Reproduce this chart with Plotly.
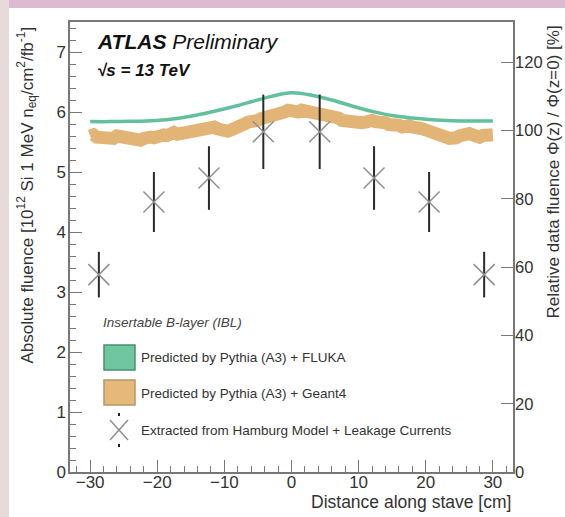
import plotly.graph_objects as go

# ---------------- data ----------------
PHI0 = 5.69  # Φ(z=0) used for the relative (right) axis

# Extracted from Hamburg Model + Leakage Currents
data_z = [-28.7, -20.5, -12.3, -4.2, 4.2, 12.3, 20.5, 28.7]
data_fluence = [3.29, 4.50, 4.90, 5.67, 5.67, 4.90, 4.50, 3.29]
data_err = [0.38, 0.50, 0.53, 0.62, 0.62, 0.53, 0.50, 0.38]

# Predicted by Pythia (A3) + FLUKA
fluka_z = [-30, -27, -24, -21, -18, -15, -12, -9, -6, -3, 0, 3, 6, 9, 12, 15, 18, 21, 24, 27, 30]
fluka_fluence = [5.84, 5.84, 5.845, 5.855, 5.88, 5.93, 6.00, 6.08, 6.17, 6.26, 6.32,
                 6.28, 6.20, 6.10, 6.01, 5.94, 5.90, 5.87, 5.855, 5.85, 5.85]

# Predicted by Pythia (A3) + Geant4  (sampled every 0.5 cm from -30 to 30)
g4_fluence = [5.60, 5.62, 5.58, 5.57, 5.61, 5.60, 5.57, 5.56, 5.60, 5.59,
              5.56, 5.53, 5.54, 5.55, 5.52, 5.53, 5.56, 5.59, 5.58, 5.57,
              5.60, 5.63, 5.62, 5.61, 5.64, 5.66, 5.63, 5.64, 5.67, 5.70,
              5.70, 5.69, 5.72, 5.75, 5.75, 5.74, 5.76, 5.75, 5.72, 5.69,
              5.69, 5.68, 5.70, 5.74, 5.76, 5.76, 5.80, 5.83, 5.83, 5.83,
              5.86, 5.89, 5.90, 5.91, 5.95, 5.98, 5.98, 5.97, 6.00, 6.03,
              6.01, 5.99, 6.00, 6.03, 6.02, 5.99, 5.99, 5.96, 5.97, 5.98,
              5.96, 5.93, 5.93, 5.92, 5.90, 5.86, 5.85, 5.84, 5.81, 5.79,
              5.80, 5.82, 5.83, 5.86, 5.86, 5.84, 5.85, 5.84, 5.82, 5.79,
              5.80, 5.80, 5.78, 5.75, 5.77, 5.77, 5.75, 5.72, 5.72, 5.72,
              5.70, 5.67, 5.67, 5.66, 5.63, 5.60, 5.58, 5.56, 5.55, 5.57,
              5.60, 5.63, 5.65, 5.64, 5.62, 5.58, 5.58, 5.61, 5.60, 5.58,
              5.62]
g4_z = [-30 + 0.5 * i for i in range(len(g4_fluence))]

x_ticks = [-30, -20, -10, 0, 10, 20, 30]
x_ticktext = ["\u221230", "\u221220", "\u221210", "0", "10", "20", "30"]
y_ticks = [0, 1, 2, 3, 4, 5, 6, 7]
y2_ticks = [0, 20, 40, 60, 80, 100, 120]

# ---------------- styling ----------------
W, H = 565, 517
L, R, T, B = 70, 52, 22, 45
PW, PH = W - L - R, H - T - B
FONT = "Liberation Sans, Arial, sans-serif"
GREEN = "#62C19B"
ORANGE = "#E2B577"
AXC = "#777777"
TXT = "#333333"


def px(X):
    return (X - L) / PW


def py(Y):
    return (T + PH - Y) / PH


fig = go.Figure()

fig.add_trace(go.Scatter(x=g4_z, y=g4_fluence, mode="lines",
                         line=dict(color=ORANGE, width=13), showlegend=False, hoverinfo="skip"))
fig.add_trace(go.Scatter(x=fluka_z, y=fluka_fluence, mode="lines",
                         line=dict(color=GREEN, width=3.5, shape="spline"), showlegend=False))
fig.add_trace(go.Scatter(x=data_z, y=data_fluence, mode="markers",
                         marker=dict(symbol="x-thin", size=21, line=dict(color="#8f8f8f", width=1.5)),
                         error_y=dict(type="data", array=data_err, color="#2a2a2a", thickness=2, width=0),
                         showlegend=False))
# relative-axis companion (invisible) so that the right axis is drawn
fig.add_trace(go.Scatter(x=data_z, y=[v / PHI0 * 100 for v in data_fluence], yaxis="y2",
                         mode="markers", marker=dict(opacity=0), showlegend=False, hoverinfo="skip"))

TICKFONT = dict(size=17, color=TXT)
fig.update_layout(
    width=W, height=H,
    margin=dict(l=L, r=R, t=T, b=B),
    paper_bgcolor="white", plot_bgcolor="white",
    font=dict(family=FONT, size=15, color=TXT),
    xaxis=dict(range=[-33, 33], tickvals=x_ticks, ticktext=x_ticktext,
               ticks="inside", ticklen=12, tickwidth=1.3, tickcolor=AXC,
               minor=dict(dtick=2, ticks="inside", ticklen=6, tickwidth=1.2, tickcolor=AXC),
               showline=True, linecolor=AXC, linewidth=1.5, mirror=True,
               showgrid=False, zeroline=False, tickfont=TICKFONT, ticklabelstandoff=-6),
    yaxis=dict(range=[0, 7.5], tickvals=y_ticks,
               ticks="inside", ticklen=12, tickwidth=1.3, tickcolor=AXC,
               minor=dict(dtick=0.2, ticks="inside", ticklen=6, tickwidth=1.2, tickcolor=AXC),
               showline=True, linecolor=AXC, linewidth=1.5,
               showgrid=False, zeroline=False, tickfont=TICKFONT, ticklabelstandoff=-1),
    yaxis2=dict(range=[0, 7.5 / PHI0 * 100], tickvals=y2_ticks, overlaying="y", side="right",
                ticks="inside", ticklen=12, tickwidth=1.3, tickcolor=AXC,
                showline=True, linecolor=AXC, linewidth=1.5,
                showgrid=False, zeroline=False, tickfont=dict(size=16.5, color=TXT),
                ticklabelstandoff=-3),
)

ann = []
# axis titles
ann.append(dict(text="Distance along stave [cm]", xref="paper", yref="paper",
                x=px(513), y=py(502), xanchor="right", yanchor="middle",
                showarrow=False, font=dict(size=17.5, color=TXT)))
ann.append(dict(text="Absolute fluence [10<sup>12</sup> Si 1 MeV n<sub>eq</sub>/cm<sup>2</sup>/fb<sup>-1</sup>]",
                xref="paper", yref="paper", x=px(27), y=py(25), xanchor="center", yanchor="top",
                textangle=-90, showarrow=False, font=dict(size=17, color=TXT)))
ann.append(dict(text="Relative data fluence \u03a6(z) / \u03a6(z=0) [%]",
                xref="paper", yref="paper", x=px(553), y=py(24), xanchor="center", yanchor="top",
                textangle=-90, showarrow=False, font=dict(size=17, color=TXT)))
# ATLAS label
ann.append(dict(text="<b><i>ATLAS</i></b> <i>Preliminary</i>", xref="paper", yref="paper",
                x=px(95), y=py(41), xanchor="left", yanchor="middle", showarrow=False,
                font=dict(size=21, color="#111111")))
ann.append(dict(text="<b><i>\u221as = 13 TeV</i></b>", xref="paper", yref="paper",
                x=px(95), y=py(70), xanchor="left", yanchor="middle", showarrow=False,
                font=dict(size=17, color="#111111")))
# legend
ann.append(dict(text="<i>Insertable B-layer (IBL)</i>", xref="paper", yref="paper",
                x=px(101), y=py(322), xanchor="left", yanchor="middle", showarrow=False,
                font=dict(size=13.5, color="#444444")))
for label, yy in [("Predicted by Pythia (A3) + FLUKA", 357),
                  ("Predicted by Pythia (A3) + Geant4", 393),
                  ("Extracted from Hamburg Model + Leakage Currents", 430)]:
    ann.append(dict(text=label, xref="paper", yref="paper", x=px(139), y=py(yy),
                    xanchor="left", yanchor="middle", showarrow=False,
                    font=dict(size=13.5, color="#333333")))
fig.update_layout(annotations=ann)

shapes = []
# photo-like background strips
shapes.append(dict(type="rect", xref="paper", yref="paper", x0=px(0), x1=px(W), y0=py(8), y1=py(0),
                   fillcolor="#DDBAD0", line=dict(width=0), layer="below"))
shapes.append(dict(type="rect", xref="paper", yref="paper", x0=px(0), x1=px(9), y0=py(H), y1=py(0),
                   fillcolor="#E6DADA", line=dict(width=0), layer="below"))
# legend boxes
shapes.append(dict(type="rect", xref="paper", yref="paper", x0=px(104), x1=px(135), y0=py(370), y1=py(345),
                   fillcolor="#6FC6A0", line=dict(color="#4A8F74", width=1.5)))
shapes.append(dict(type="rect", xref="paper", yref="paper", x0=px(104), x1=px(135), y0=py(405), y1=py(380),
                   fillcolor="#E6B97A", line=dict(color="#B8956A", width=1.5)))
# legend cross marker
shapes.append(dict(type="line", xref="paper", yref="paper", x0=px(110), x1=px(128), y0=py(420), y1=py(440),
                   line=dict(color="#8f8f8f", width=1.5)))
shapes.append(dict(type="line", xref="paper", yref="paper", x0=px(110), x1=px(128), y0=py(440), y1=py(420),
                   line=dict(color="#8f8f8f", width=1.5)))
shapes.append(dict(type="line", xref="paper", yref="paper", x0=px(119), x1=px(119), y0=py(413), y1=py(416),
                   line=dict(color="#222222", width=2)))
shapes.append(dict(type="line", xref="paper", yref="paper", x0=px(119), x1=px(119), y0=py(444), y1=py(447),
                   line=dict(color="#222222", width=2)))
fig.update_layout(shapes=shapes)

fig.write_html("out.html")
